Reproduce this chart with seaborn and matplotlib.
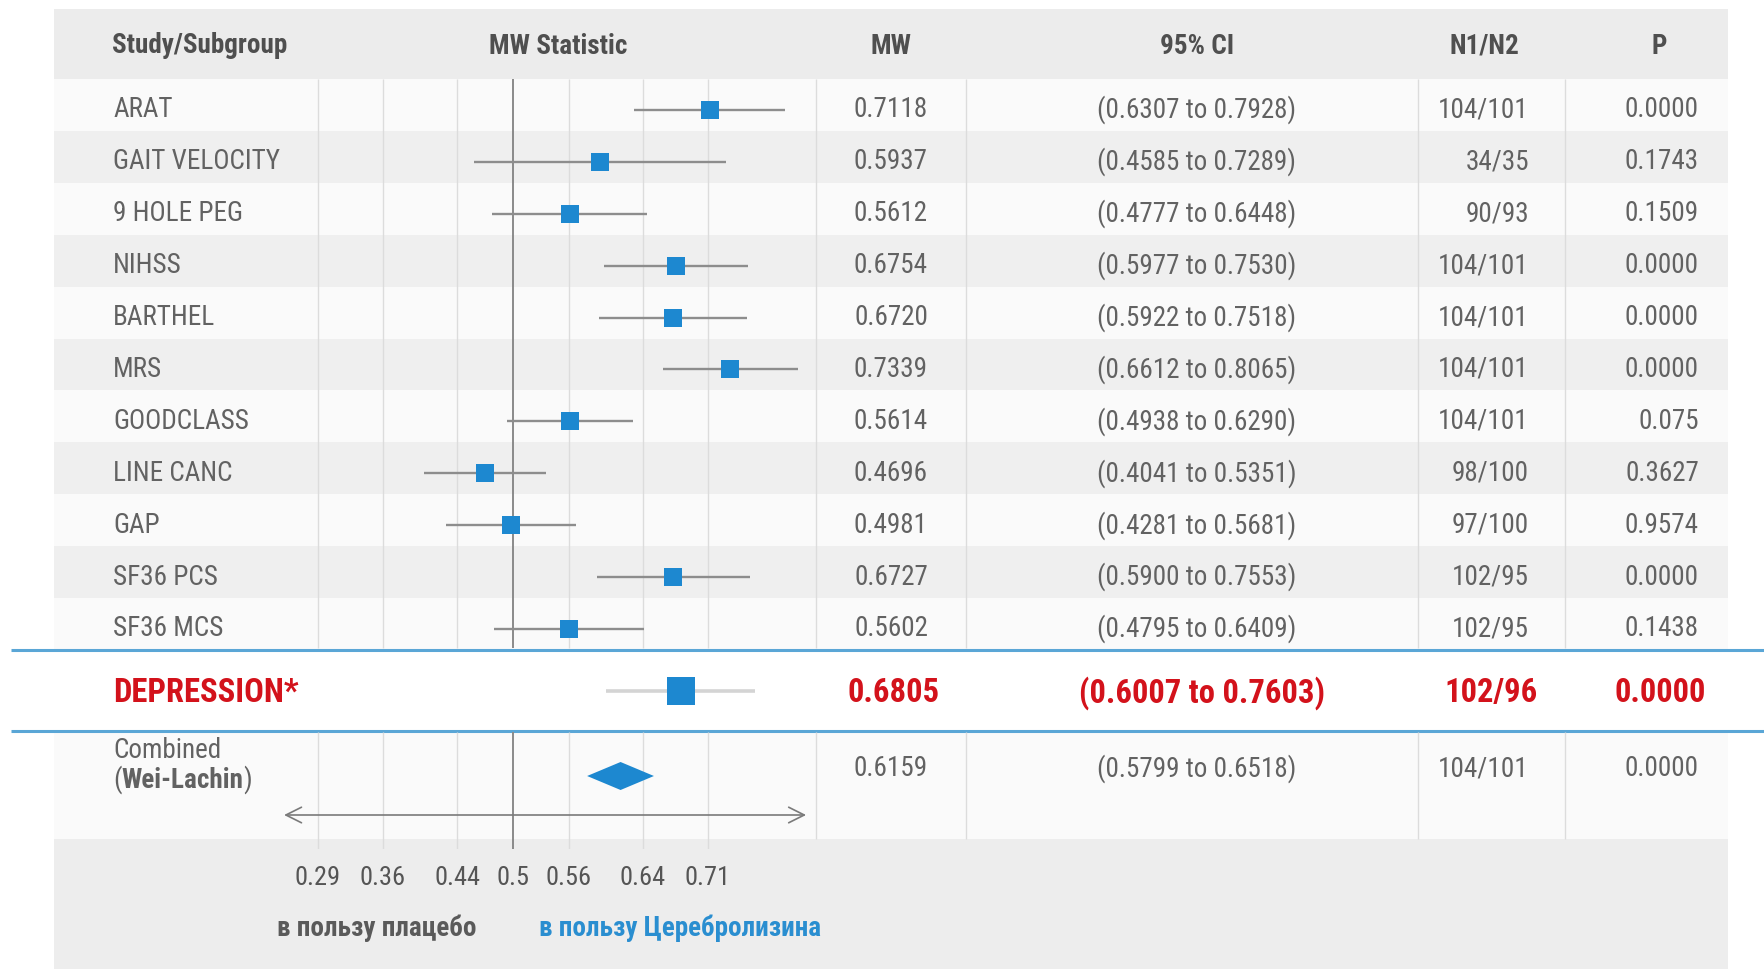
import numpy as np
import pandas as pd
import matplotlib
matplotlib.use("Agg")
import matplotlib.pyplot as plt
import matplotlib.transforms as mtransforms
from matplotlib import font_manager
from matplotlib.patches import Rectangle
import seaborn as sns

# ---- data -------------------------------------------------------------
studies = ["ARAT", "GAIT VELOCITY", "9 HOLE PEG", "NIHSS", "BARTHEL", "MRS",
           "GOODCLASS", "LINE CANC", "GAP", "SF36 PCS", "SF36 MCS"]
mw = [0.7118, 0.5937, 0.5612, 0.6754, 0.6720, 0.7339,
      0.5614, 0.4696, 0.4981, 0.6727, 0.5602]
ci_low = [0.6307, 0.4585, 0.4777, 0.5977, 0.5922, 0.6612,
          0.4938, 0.4041, 0.4281, 0.5900, 0.4795]
ci_high = [0.7928, 0.7289, 0.6448, 0.7530, 0.7518, 0.8065,
           0.6290, 0.5351, 0.5681, 0.7553, 0.6409]
n1n2 = ["104/101", "34/35", "90/93", "104/101", "104/101", "104/101",
        "104/101", "98/100", "97/100", "102/95", "102/95"]
p_values = ["0.0000", "0.1743", "0.1509", "0.0000", "0.0000", "0.0000",
            "0.075", "0.3627", "0.9574", "0.0000", "0.1438"]

highlight_label = "DEPRESSION*"
highlight_mw = 0.6805
highlight_low = 0.6007
highlight_high = 0.7603
highlight_n = "102/96"
highlight_p = "0.0000"

combined_label = "Combined"
combined_method = "Wei-Lachin"
combined_mw = 0.6159
combined_low = 0.5799
combined_high = 0.6518
combined_n = "104/101"
combined_p = "0.0000"

tick_values = [0.29, 0.36, 0.44, 0.5, 0.56, 0.64, 0.71]
headers = ["Study/Subgroup", "MW Statistic", "MW", "95% CI", "N1/N2", "P"]
favours_placebo = "в пользу плацебо"
favours_drug = "в пользу Церебролизина"

# ---- style ------------------------------------------------------------
sns.set_theme(style="white")
available = {f.name for f in font_manager.fontManager.ttflist}
FONT = "Roboto"
for cand in ["Roboto Condensed", "Liberation Sans Narrow", "Roboto"]:
    if cand in available:
        FONT = cand
        break
K = 1.0 if FONT != "Roboto" else 0.86   # regular Roboto runs wider
plt.rcParams["font.family"] = [FONT, "DejaVu Sans"]

BLUE = "#1d88d0"
RED = "#d3121b"
TXT = "#626262"
HDR = "#4f4f4f"
GRID = "#dcdcdc"
ROW_LIGHT = "#fafafa"
ROW_DARK = "#efefef"
BAND = "#ececec"
LINE_BLUE = "#5aa6d6"

# ---- layout (figure pixels) -------------------------------------------
W, H = 1765, 969
TABLE_L, TABLE_R = 54, 1728
TOP = 9
HEADER_B = 79
ROW_H = 51.9
N = len(studies)
HL_T = HEADER_B + N * ROW_H
HL_B = HL_T + 81
COMB_B = 839
GRID_B = 849
COL_LINES = [816, 966, 1418, 1565]

# forest panel: x pixel = MW_PX0 + PX_PER_UNIT * (mw - 0.5)
MW_PX0, PX_PER_UNIT = 512.9, 929.0
AX_L, AX_R = 234, 816

X_LABEL = 113
X_MW = 891
X_CI = 1197
X_N = 1529
X_P = 1699

fig = plt.figure(figsize=(W / 100, H / 100), dpi=100)
fig.patch.set_facecolor("white")

bg = fig.add_axes([0, 0, 1, 1])
bg.set_xlim(0, W)
bg.set_ylim(H, 0)
bg.axis("off")

row_y = [HEADER_B + (i + 0.5) * ROW_H + 5 for i in range(N)]
hl_y = (HL_T + HL_B) / 2
comb_y = 776

# background bands
bg.add_patch(Rectangle((TABLE_L, TOP), TABLE_R - TABLE_L, HEADER_B - TOP,
                       color=BAND, lw=0))
for i in range(N):
    bg.add_patch(Rectangle((TABLE_L, HEADER_B + i * ROW_H), TABLE_R - TABLE_L,
                           ROW_H, color=ROW_LIGHT if i % 2 == 0 else ROW_DARK,
                           lw=0))
bg.add_patch(Rectangle((TABLE_L, HL_B), TABLE_R - TABLE_L, COMB_B - HL_B,
                       color=ROW_LIGHT, lw=0))
bg.add_patch(Rectangle((TABLE_L, COMB_B), TABLE_R - TABLE_L, H - COMB_B,
                       color="#ededed", lw=0))
bg.add_patch(Rectangle((11, HL_T), W - 11, HL_B - HL_T, color="white", lw=0))
bg.hlines([HL_T, HL_B], 11, W, color=LINE_BLUE, lw=2.2)

# column separators (interrupted by the highlighted row)
bg.vlines(COL_LINES, HEADER_B, HL_T - 1.5, color=GRID, lw=1)
bg.vlines(COL_LINES, HL_B + 1.5, COMB_B, color=GRID, lw=1)

# header
hdr_kw = dict(fontsize=19.5 * K, fontweight="bold", color=HDR, va="center")
bg.text(X_LABEL - 1, 45, headers[0], ha="left", **hdr_kw)
bg.text(558, 46, headers[1], ha="center", **hdr_kw)
bg.text(X_MW, 46, headers[2], ha="center", **hdr_kw)
bg.text(X_CI, 46, headers[3], ha="center", **hdr_kw)
bg.text(1484, 46, headers[4], ha="center", **hdr_kw)
bg.text(1659, 46, headers[5], ha="center", **hdr_kw)

# table rows
row_kw = dict(fontsize=19.5 * K, color=TXT, va="center")
for y, name, m, lo, hi, n, p in zip(row_y, studies, mw, ci_low, ci_high,
                                    n1n2, p_values):
    bg.text(X_LABEL, y, name, ha="left", **row_kw)
    bg.text(X_MW, y, f"{m:.4f}", ha="center", **row_kw)
    bg.text(X_CI, y, f"({lo:.4f} to {hi:.4f})", ha="center", **row_kw)
    bg.text(X_N, y, n, ha="right", **row_kw)
    bg.text(X_P, y, p, ha="right", **row_kw)

# highlighted row
hl_kw = dict(fontsize=23.5 * K, fontweight="bold", color=RED, va="center")
hl_text_y = hl_y + 3
bg.text(X_LABEL, hl_text_y, highlight_label, ha="left", **hl_kw)
bg.text(X_MW + 3, hl_text_y, f"{highlight_mw:.4f}", ha="center", **hl_kw)
bg.text(X_CI + 5, hl_text_y, f"({highlight_low:.4f} to {highlight_high:.4f})",
        ha="center", **hl_kw)
bg.text(1491, hl_text_y, highlight_n, ha="center", **hl_kw)
bg.text(1660, hl_text_y, highlight_p, ha="center", **hl_kw)

# combined row
comb_kw = dict(fontsize=19.5 * K, color=TXT)
bg.text(X_LABEL, 750, combined_label, ha="left", va="center", **comb_kw)
t_open = bg.text(X_LABEL, 780, "(", ha="left", va="center", **comb_kw)
t_name = bg.annotate(combined_method, xy=(1, 0), xycoords=t_open,
                     ha="left", va="bottom", fontweight="bold", **comb_kw)
bg.annotate(")", xy=(1, 0), xycoords=t_name, ha="left", va="bottom",
            **comb_kw)
val_y = 769
bg.text(X_MW, val_y, f"{combined_mw:.4f}", ha="center", **row_kw)
bg.text(X_CI, val_y, f"({combined_low:.4f} to {combined_high:.4f})",
        ha="center", **row_kw)
bg.text(X_N, val_y, combined_n, ha="right", **row_kw)
bg.text(X_P, val_y, combined_p, ha="right", **row_kw)

# footer captions
foot_kw = dict(fontsize=19.5 * K, fontweight="bold", va="center")
bg.text(377, 928, favours_placebo, ha="center", color="#5a5a5a", **foot_kw)
bg.text(539, 928, favours_drug, ha="left", color="#2a8ed0", **foot_kw)

# ---- forest panel ------------------------------------------------------
fax = fig.add_axes([AX_L / W, (H - GRID_B) / H, (AX_R - AX_L) / W,
                    (GRID_B - HEADER_B) / H])
fax.patch.set_alpha(0)
for s in fax.spines.values():
    s.set_visible(False)

minor = [t for t in tick_values if t != 0.5]
for y0, y1 in [(HEADER_B, HL_T - 1.5), (HL_B + 1.5, GRID_B)]:
    fax.vlines(minor, y0, y1, color=GRID, lw=1, zorder=1)
    fax.vlines([0.5], y0, y1, color="#8a8a8a", lw=1.4, zorder=1)

df = pd.DataFrame({"study": studies, "mw": mw, "lo": ci_low, "hi": ci_high,
                   "y": row_y})
fax.hlines(df["y"], df["lo"], df["hi"], color="#8d8d8d", lw=1.7, zorder=2)
sns.scatterplot(data=df, x="mw", y="y", marker="s", s=175, color=BLUE,
                linewidth=0, ax=fax, zorder=3, legend=False)

hl = pd.DataFrame({"mw": [highlight_mw], "y": [hl_y + 1]})
fax.hlines(hl_y + 1, highlight_low, highlight_high, color="#d4d4d4", lw=2.6,
           zorder=2)
sns.scatterplot(data=hl, x="mw", y="y", marker="s", s=380, color=BLUE,
                linewidth=0, ax=fax, zorder=3, legend=False)

half_h = 14
fax.fill([combined_low, combined_mw, combined_high, combined_mw],
         [comb_y, comb_y - half_h, comb_y, comb_y + half_h],
         color=BLUE, lw=0, zorder=3)

arrow_tr = mtransforms.blended_transform_factory(fax.transAxes, fax.transData)
fax.annotate("", xy=(0.983, 815), xytext=(0.086, 815),
             xycoords=arrow_tr, textcoords=arrow_tr,
             arrowprops=dict(arrowstyle="<->", color="#7a7a7a", lw=1.2,
                             mutation_scale=28, shrinkA=0, shrinkB=0),
             zorder=4)

fax.set_xlim(0.5 + (AX_L - MW_PX0) / PX_PER_UNIT,
             0.5 + (AX_R - MW_PX0) / PX_PER_UNIT)
fax.set_ylim(GRID_B, HEADER_B)
fax.set_xticks(tick_values)
fax.set_xticklabels([f"{t:g}" for t in tick_values])
fax.set_yticks([])
fax.tick_params(axis="x", length=0, pad=12, labelsize=19 * K,
                labelcolor="#555555")
fax.set_xlabel("")
fax.set_ylabel("")

fig.savefig("out.png", dpi=100, facecolor="white")
